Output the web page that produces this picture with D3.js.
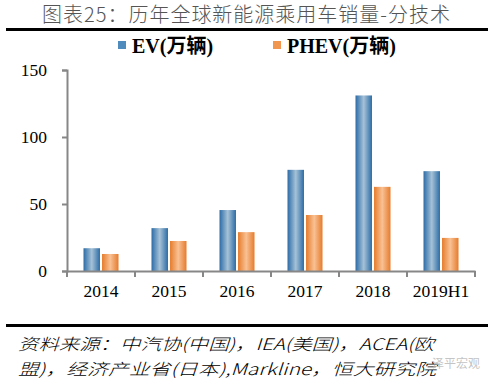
<!DOCTYPE html>
<html lang="zh">
<head>
<meta charset="UTF-8">
<title>历年全球新能源乘用车销量-分技术</title>
<script src="https://d3js.org/d3.v7.min.js"></script>
<style>
  body { margin: 0; background: #fff; }
  svg { display: block; }
  .tick text { font-family: "Liberation Serif", "Times New Roman", serif; font-size: 17.5px; fill: #000; }
</style>
</head>
<body>
<div id="chart"></div>
<script>
// data
const categories = ["2014", "2015", "2016", "2017", "2018", "2019H1"];
const seriesNames = ["EV(万辆)", "PHEV(万辆)"];
const evValues = [17, 32, 45.5, 75.5, 131, 74.5];
const phevValues = [12.7, 22.4, 29, 41.8, 62.8, 24.7];
const yTicks = [0, 50, 100, 150];

const W = 495, H = 389;
const svg = d3.select("#chart").append("svg")
    .attr("width", W).attr("height", H);

// gradients for the bars
const defs = svg.append("defs");
function grad(id, edge, mid) {
  const g = defs.append("linearGradient").attr("id", id)
      .attr("x1", "0%").attr("x2", "100%").attr("y1", "0%").attr("y2", "0%");
  g.append("stop").attr("offset", "0%").attr("stop-color", edge);
  g.append("stop").attr("offset", "50%").attr("stop-color", mid);
  g.append("stop").attr("offset", "100%").attr("stop-color", edge);
}
grad("gEV", "#2c6ca6", "#a6c2d6");
grad("gPHEV", "#e57c2c", "#f9c194");
const fills = ["url(#gEV)", "url(#gPHEV)"];
const swatch = ["#4f8bbd", "#f0964f"];

// title + rules
svg.append("text")
    .attr("x", 42).attr("y", 22)
    .attr("textLength", 408).attr("lengthAdjust", "spacing")
    .style("font-family", "'Noto Sans CJK SC', sans-serif")
    .style("font-size", "20px").style("font-weight", 300)
    .attr("fill", "#555")
    .text("图表25：历年全球新能源乘用车销量-分技术");

svg.append("rect").attr("x", 6).attr("y", 28).attr("width", 482).attr("height", 3).attr("fill", "#000");
svg.append("rect").attr("x", 6).attr("y", 324).attr("width", 482).attr("height", 3).attr("fill", "#000");

// scales
const x0 = d3.scaleBand().domain(categories).range([67, 475]).padding(0);
const x1 = d3.scaleBand().domain(seriesNames)
    .range([16.5, x0.bandwidth() - 16.5]).paddingInner(0.11);
const y = d3.scaleLinear().domain([0, 150]).range([271, 70]);

// bars
const rows = categories.map((c, i) => ({ cat: c, vals: [evValues[i], phevValues[i]] }));
const groups = svg.append("g").selectAll("g").data(rows).join("g")
    .attr("transform", d => `translate(${x0(d.cat)},0)`);
groups.selectAll("rect")
    .data(d => d.vals.map((v, k) => ({ name: seriesNames[k], v, k })))
    .join("rect")
    .attr("x", d => x1(d.name))
    .attr("width", x1.bandwidth())
    .attr("y", d => y(d.v))
    .attr("height", d => y(0) - y(d.v))
    .attr("fill", d => fills[d.k]);

// axes
const axisColor = "#878787";
const yAxis = svg.append("g").attr("transform", "translate(67,0)")
    .call(d3.axisLeft(y).tickValues(yTicks).tickSize(5).tickPadding(15));
yAxis.select(".domain").attr("stroke", axisColor).attr("stroke-width", 2);
yAxis.selectAll(".tick line").attr("stroke", axisColor).attr("stroke-width", 2);

const xAxis = svg.append("g").attr("transform", "translate(0,271)")
    .call(d3.axisBottom(x0).tickSize(0).tickPadding(14));
xAxis.select(".domain").attr("stroke", axisColor).attr("stroke-width", 2);
xAxis.selectAll(".tick text").attr("dy", "0.71em");
// boundary ticks between categories
const bounds = categories.map(c => x0(c)).concat([x0.range()[1]]);
xAxis.selectAll(".bound").data(bounds).join("line")
    .attr("x1", d => d).attr("x2", d => d)
    .attr("y1", 0).attr("y2", 6)
    .attr("stroke", axisColor).attr("stroke-width", 2);

// legend
const legendX = [118, 273];
const lg = svg.append("g").selectAll("g").data(seriesNames).join("g")
    .attr("transform", (d, i) => `translate(${legendX[i]},0)`);
lg.append("rect").attr("x", 0).attr("y", 41).attr("width", 8).attr("height", 8)
    .attr("fill", (d, i) => swatch[i]);
lg.append("text").attr("x", 14).attr("y", 53)
    .style("font-family", "'Liberation Serif', 'Noto Sans CJK SC', serif")
    .style("font-size", "20px").style("font-weight", "bold")
    .text(d => d);

// source note
const noteLines = [
  "资料来源：中汽协(中国)，IEA(美国)，ACEA(欧",
  "盟)，经济产业省(日本),Markline，恒大研究院"
];
svg.append("g").selectAll("text").data(noteLines).join("text")
    .attr("x", 18).attr("y", (d, i) => 350 + i * 25)
    .attr("textLength", (d, i) => i === 0 ? 416 : 418).attr("lengthAdjust", "spacingAndGlyphs")
    .style("font-family", "'Noto Sans CJK SC', sans-serif")
    .style("font-size", "16px").style("font-style", "italic").style("font-weight", 300)
    .attr("fill", "#000")
    .text(d => d);

// watermark
svg.append("text").attr("x", 432).attr("y", 368)
    .style("font-family", "'Noto Sans CJK SC', sans-serif")
    .style("font-size", "12px").attr("fill", "#bdbdbd").attr("fill-opacity", 0.9)
    .text("泽平宏观");
</script>
</body>
</html>
